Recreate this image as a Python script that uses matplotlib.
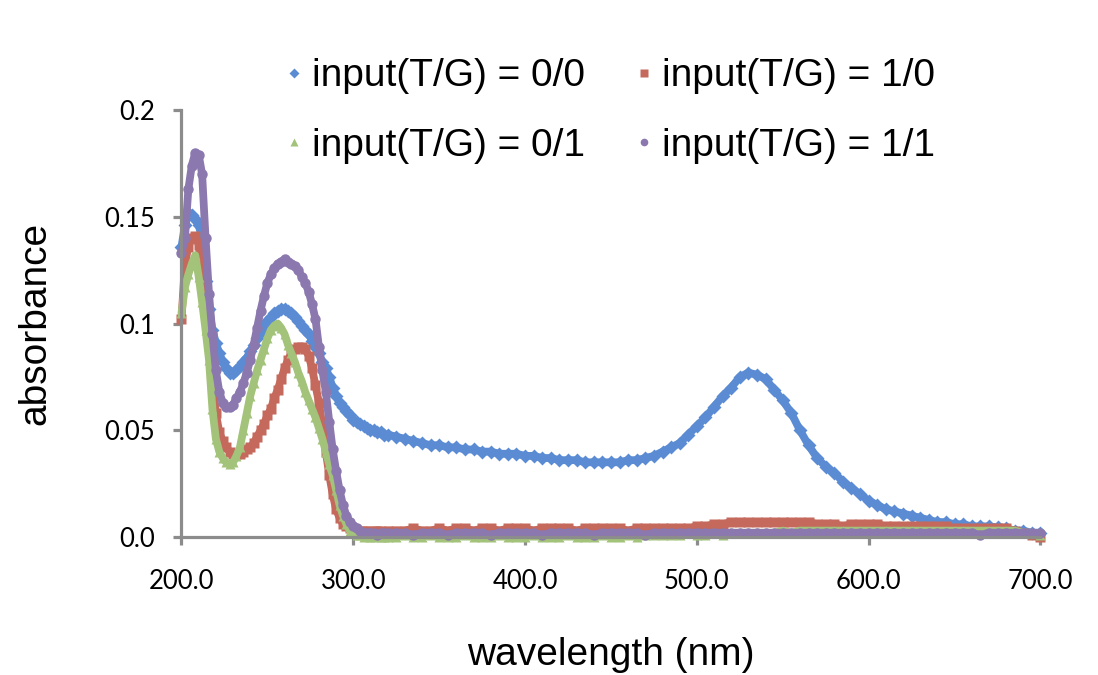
import numpy as np
import matplotlib
matplotlib.use("Agg")
import matplotlib.pyplot as plt
from matplotlib.lines import Line2D

# wavelength grid (nm): 2 nm steps in the UV part, 5 nm steps after
wavelength = np.concatenate([np.arange(200, 321, 2), np.arange(325, 701, 5)])

abs_00 = [
    0.136, 0.146, 0.152, 0.151, 0.149, 0.146, 0.140, 0.120, 0.107, 0.097,
    0.091, 0.086, 0.082, 0.079, 0.077, 0.077, 0.078, 0.080, 0.082, 0.084,
    0.087, 0.090, 0.093, 0.096, 0.099, 0.101, 0.103, 0.105, 0.106, 0.107,
    0.107, 0.106, 0.105, 0.103, 0.101, 0.099, 0.097, 0.095, 0.092, 0.089,
    0.086, 0.082, 0.079, 0.075, 0.070, 0.066, 0.063, 0.061, 0.059, 0.057,
    0.055, 0.054, 0.053, 0.052, 0.051, 0.050, 0.050, 0.049, 0.049, 0.048,
    0.048,
    0.047, 0.046, 0.045, 0.044, 0.043, 0.043, 0.042, 0.042, 0.041, 0.041,
    0.040, 0.040, 0.039, 0.039, 0.039, 0.038, 0.038, 0.037, 0.037, 0.036,
    0.036, 0.036, 0.035, 0.035, 0.035, 0.035, 0.035, 0.036, 0.036, 0.037,
    0.038, 0.040, 0.042, 0.044, 0.048, 0.052, 0.056, 0.061, 0.066, 0.070,
    0.075, 0.077, 0.076, 0.074, 0.069, 0.064, 0.058, 0.050, 0.043, 0.037,
    0.033, 0.030, 0.026, 0.023, 0.020, 0.017, 0.015, 0.013, 0.012, 0.011,
    0.010, 0.009, 0.008, 0.007, 0.007, 0.006, 0.006, 0.005, 0.005, 0.005,
    0.0045, 0.004, 0.003, 0.003, 0.002, 0.002,
]

abs_10 = [
    0.102, 0.128, 0.136, 0.140, 0.141, 0.137, 0.125, 0.102, 0.092, 0.076,
    0.058, 0.049, 0.045, 0.042, 0.040, 0.039, 0.039, 0.039, 0.040, 0.041,
    0.042, 0.044, 0.047, 0.050, 0.053, 0.057, 0.060, 0.065, 0.069, 0.074,
    0.079, 0.083, 0.086, 0.088, 0.089, 0.089, 0.088, 0.085, 0.079, 0.071,
    0.063, 0.052, 0.040, 0.029, 0.020, 0.013, 0.009, 0.006, 0.005, 0.004,
    0.003, 0.003, 0.002, 0.003, 0.003, 0.002, 0.003, 0.003, 0.003, 0.002,
    0.003,
    0.003, 0.003, 0.004, 0.003, 0.003, 0.004, 0.003, 0.004, 0.004, 0.003,
    0.004, 0.004, 0.003, 0.004, 0.004, 0.004, 0.003, 0.004, 0.004, 0.004,
    0.004, 0.003, 0.004, 0.004, 0.004, 0.004, 0.004, 0.003, 0.004, 0.004,
    0.004, 0.004, 0.004, 0.004, 0.004, 0.005, 0.005, 0.006, 0.006, 0.007,
    0.007, 0.007, 0.007, 0.007, 0.007, 0.007, 0.007, 0.007, 0.007, 0.006,
    0.006, 0.006, 0.005, 0.006, 0.006, 0.006, 0.006, 0.005, 0.005, 0.005,
    0.005, 0.005, 0.005, 0.005, 0.005, 0.004, 0.004, 0.004, 0.004, 0.004,
    0.004, 0.004, 0.003, 0.002, 0.001, 0.000,
]

abs_01 = [
    0.105, 0.117, 0.123, 0.128, 0.132, 0.122, 0.110, 0.097, 0.083, 0.060,
    0.046, 0.040, 0.037, 0.035, 0.034, 0.035, 0.038, 0.042, 0.050, 0.058,
    0.066, 0.072, 0.078, 0.083, 0.088, 0.093, 0.097, 0.099, 0.100, 0.098,
    0.095, 0.090, 0.086, 0.082, 0.077, 0.073, 0.068, 0.064, 0.060, 0.056,
    0.051, 0.046, 0.040, 0.034, 0.029, 0.022, 0.015, 0.010, 0.006, 0.003,
    0.002, 0.001, 0.001, 0.000, 0.001, 0.000, 0.000, 0.001, 0.000, 0.000,
    0.000,
    0.000, 0.001, 0.000, 0.000, 0.001, 0.000, 0.000, 0.000, 0.001, 0.000,
    0.000, 0.000, 0.001, 0.000, 0.000, 0.000, 0.001, 0.000, 0.000, 0.000,
    0.001, 0.000, 0.000, 0.000, 0.001, 0.000, 0.000, 0.001, 0.000, 0.001,
    0.001, 0.001, 0.001, 0.001, 0.002, 0.001, 0.001, 0.002, 0.001, 0.002,
    0.002, 0.002, 0.002, 0.002, 0.002, 0.003, 0.002, 0.003, 0.003, 0.003,
    0.003, 0.003, 0.003, 0.003, 0.003, 0.003, 0.003, 0.003, 0.003, 0.003,
    0.003, 0.003, 0.003, 0.003, 0.003, 0.003, 0.003, 0.003, 0.003, 0.003,
    0.003, 0.003, 0.003, 0.002, 0.002, 0.001,
]

abs_11 = [
    0.133, 0.140, 0.163, 0.174, 0.180, 0.179, 0.170, 0.140, 0.114, 0.095,
    0.078, 0.068, 0.063, 0.061, 0.061, 0.062, 0.065, 0.068, 0.072, 0.077,
    0.083, 0.090, 0.098, 0.106, 0.113, 0.119, 0.123, 0.126, 0.128, 0.129,
    0.130, 0.129, 0.128, 0.127, 0.125, 0.122, 0.119, 0.115, 0.109, 0.102,
    0.089, 0.078, 0.068, 0.054, 0.041, 0.031, 0.022, 0.015, 0.010, 0.007,
    0.005, 0.004, 0.003, 0.002, 0.002, 0.002, 0.002, 0.001, 0.002, 0.002,
    0.002,
    0.002, 0.002, 0.001, 0.002, 0.002, 0.002, 0.001, 0.002, 0.002, 0.002,
    0.002, 0.001, 0.002, 0.002, 0.002, 0.002, 0.002, 0.001, 0.002, 0.002,
    0.002, 0.002, 0.002, 0.001, 0.002, 0.002, 0.002, 0.002, 0.002, 0.001,
    0.002, 0.002, 0.002, 0.002, 0.002, 0.002, 0.002, 0.002, 0.002, 0.002,
    0.002, 0.002, 0.002, 0.002, 0.002, 0.002, 0.002, 0.002, 0.002, 0.002,
    0.002, 0.002, 0.002, 0.002, 0.002, 0.002, 0.002, 0.002, 0.002, 0.002,
    0.002, 0.002, 0.002, 0.002, 0.002, 0.002, 0.002, 0.002, 0.001, 0.002,
    0.002, 0.002, 0.002, 0.002, 0.002, 0.002,
]

labels = ["input(T/G) = 0/0", "input(T/G) = 1/0", "input(T/G) = 0/1", "input(T/G) = 1/1"]
colors = ["#5b8cd3", "#c4695c", "#a3c27a", "#8b78ae"]
markers = ["D", "s", "^", "o"]
series = [abs_00, abs_10, abs_01, abs_11]

x_ticks = [200, 300, 400, 500, 600, 700]
y_ticks = [0.0, 0.05, 0.1, 0.15, 0.2]
y_ticklabels = ["0.0", "0.05", "0.1", "0.15", "0.2"]

axis_grey = "#8c8c8c"

fig = plt.figure(figsize=(10.98, 6.75), dpi=100)
ax = fig.add_axes([0.1653, 0.2044, 0.7823, 0.6326])

handles = []
for y, c, m, lab in zip(series, colors, markers, labels):
    ax.plot(wavelength, y, color=c, lw=5.6, marker=m, ms=7.5, mec="none",
            solid_joinstyle="round", solid_capstyle="round", clip_on=False)
    handles.append(Line2D([], [], ls="none", marker=m, color=c, ms=5.5, mec="none", label=lab))

ax.set_xlim(200, 700)
ax.set_ylim(0, 0.2)
ax.set_xticks(x_ticks)
ax.set_xticklabels([f"{v:.1f}" for v in x_ticks])
ax.set_yticks(y_ticks)
ax.set_yticklabels(y_ticklabels)

for side in ["top", "right"]:
    ax.spines[side].set_visible(False)
for side in ["left", "bottom"]:
    ax.spines[side].set_color(axis_grey)
    ax.spines[side].set_linewidth(2.3)
ax.tick_params(axis="both", direction="out", length=6, width=2.3, color=axis_grey,
               labelsize=18.5, labelcolor="black")
ax.tick_params(axis="x", pad=17)
ax.tick_params(axis="y", pad=13)
for t in ax.get_xticklabels() + ax.get_yticklabels():
    t.set_family("Lato")

fig.text(35 / 1098, 1 - 323 / 675, "absorbance", rotation=90, ha="center", va="center",
         fontsize=28, family="Liberation Sans")
fig.text(611 / 1098, 1 - 655 / 675, "wavelength (nm)", ha="center", va="center",
         fontsize=28, family="Liberation Sans")

# ncol=2 fills column-wise: 0/0, 0/1 | 1/0, 1/1
leg_handles = [handles[0], handles[2], handles[1], handles[3]]
fig.legend(handles=leg_handles, loc="upper left", bbox_to_anchor=(267 / 1098, 1 - 39 / 675),
           ncol=2, frameon=False, borderpad=0, handlelength=0.4, handletextpad=0.26,
           columnspacing=1.32, labelspacing=0.85,
           prop={"family": "Liberation Sans", "size": 28})

fig.savefig("out.png", dpi=100, facecolor="white")
